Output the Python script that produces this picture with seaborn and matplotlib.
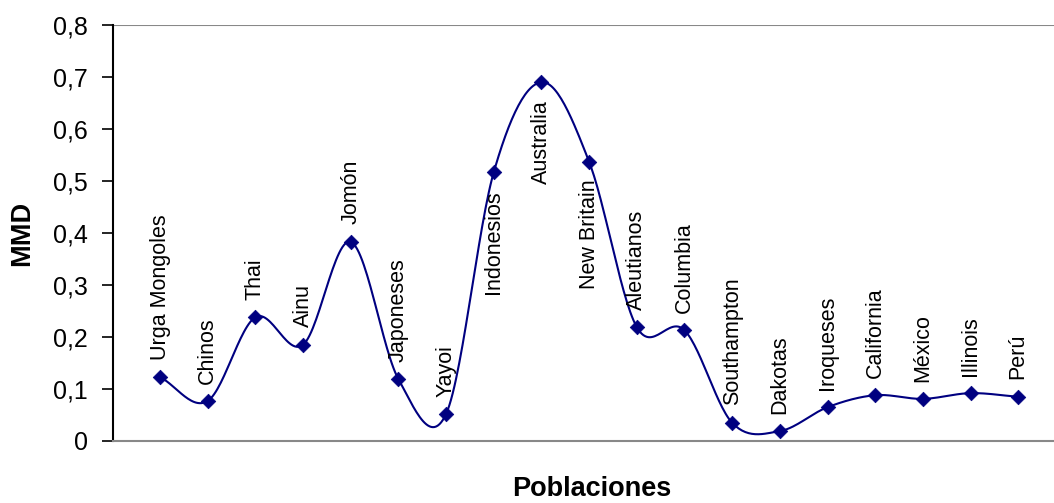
import numpy as np
import pandas as pd
import matplotlib
matplotlib.use("Agg")
import matplotlib.pyplot as plt
import seaborn as sns

poblaciones = ["Urga Mongoles", "Chinos", "Thai", "Ainu", "Jomón", "Japoneses", "Yayoi",
               "Indonesios", "Australia", "New Britain", "Aleutianos", "Columbia",
               "Southampton", "Dakotas", "Iroqueses", "California", "México", "Illinois", "Perú"]
mmd = [0.123, 0.077, 0.238, 0.185, 0.383, 0.119, 0.052, 0.517, 0.690, 0.537,
       0.219, 0.213, 0.035, 0.019, 0.065, 0.088, 0.081, 0.092, 0.085]
labels_below = ["Indonesios", "Australia", "New Britain"]
yticks = [0, 0.1, 0.2, 0.3, 0.4, 0.5, 0.6, 0.7, 0.8]
ytick_labels = ["0", "0,1", "0,2", "0,3", "0,4", "0,5", "0,6", "0,7", "0,8"]

sns.set_style("white")
plt.rcParams['font.family'] = ['Liberation Sans', 'DejaVu Sans']
plt.rcParams['text.color'] = 'black'
plt.rcParams['axes.labelcolor'] = 'black'
plt.rcParams['ytick.color'] = 'black'

df = pd.DataFrame({"pos": np.arange(len(poblaciones)), "mmd": mmd, "pob": poblaciones})

# Smooth curve (Catmull-Rom, like Excel's smoothed line)
x = df["pos"].to_numpy(float)
y = df["mmd"].to_numpy(float)
px = np.concatenate([[2*x[0]-x[1]], x, [2*x[-1]-x[-2]]])
py = np.concatenate([[2*y[0]-y[1]], y, [2*y[-1]-y[-2]]])
sx, sy = [], []
t = np.linspace(0, 1, 30)
for i in range(1, len(px)-2):
    p0, p1, p2, p3 = px[i-1], px[i], px[i+1], px[i+2]
    q0, q1, q2, q3 = py[i-1], py[i], py[i+1], py[i+2]
    cx = 0.5*((2*p1) + (-p0+p2)*t + (2*p0-5*p1+4*p2-p3)*t**2 + (-p0+3*p1-3*p2+p3)*t**3)
    cy = 0.5*((2*q1) + (-q0+q2)*t + (2*q0-5*q1+4*q2-q3)*t**2 + (-q0+3*q1-3*q2+q3)*t**3)
    sx.extend(cx); sy.extend(cy)
curve = pd.DataFrame({"x": sx, "y": sy})

fig = plt.figure(figsize=(10.54, 5.03), dpi=100)
ax = fig.add_axes([0.1072, 0.1233, 0.8928, 0.827])

color = "#000080"
sns.lineplot(data=curve, x="x", y="y", ax=ax, color=color, lw=1.5, sort=False, estimator=None)
sns.scatterplot(data=df, x="pos", y="mmd", ax=ax, color=color, marker="D", s=55,
                edgecolor=color, linewidth=0.5, zorder=5)

for xi, yi, name in zip(df["pos"], df["mmd"], df["pob"]):
    if name in labels_below:
        ax.annotate(name, (xi, yi), xytext=(0, -13), textcoords="offset points",
                    rotation=90, ha="center", va="top", fontsize=15.5, color="black")
    else:
        ax.annotate(name, (xi, yi), xytext=(0, 12.5), textcoords="offset points",
                    rotation=90, ha="center", va="bottom", fontsize=15.5, color="black")

ax.set_xlim(-0.986, 18.75)
ax.set_ylim(0, 0.8)
ax.set_yticks(yticks)
ax.set_yticklabels(ytick_labels, fontsize=18)
ax.set_xticks([])
ax.axhline(0.8, color="#888888", lw=1.5, zorder=0)

for s in ["top", "right"]:
    ax.spines[s].set_visible(False)
ax.spines["left"].set_color("black")
ax.spines["left"].set_linewidth(1.5)
ax.spines["bottom"].set_color("#888888")
ax.spines["bottom"].set_linewidth(1.5)
ax.tick_params(axis="y", direction="out", length=8, width=1.2, color="black", left=True, pad=10)

ax.set_ylabel("MMD", fontsize=19.5, fontweight="bold")
ax.yaxis.set_label_coords(-0.097, 0.5)
ax.set_xlabel("Poblaciones", fontsize=19.5, fontweight="bold")
ax.xaxis.set_label_coords(0.509, -0.115)
ax.xaxis.label.set_va("center")
ax.yaxis.label.set_va("center")

fig.savefig("out.png", dpi=100)
